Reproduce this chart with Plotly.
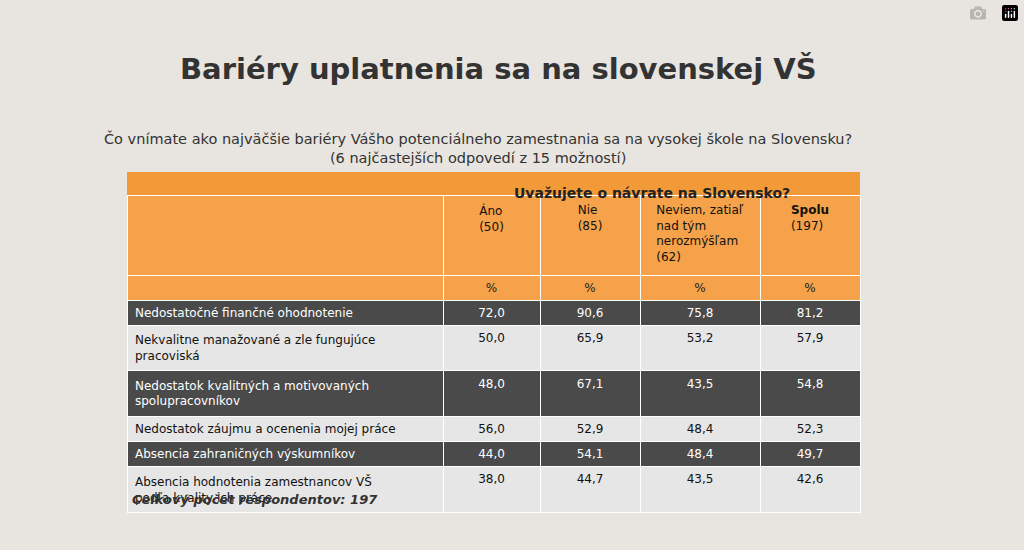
import plotly.graph_objects as go

# data
col_heads = ["", "Áno<br>(50)", "Nie<br>(85)", "Neviem, zatiaľ<br>nad tým<br>nerozmýšľam<br>(62)", "<b>Spolu</b><br>(197)"]
barriers = ["Nedostatočné finančné ohodnotenie",
            "Nekvalitne manažované a zle fungujúce<br>pracoviská",
            "Nedostatok kvalitných a motivovaných<br>spolupracovníkov",
            "Nedostatok záujmu a ocenenia mojej práce",
            "Absencia zahraničných výskumníkov",
            "Absencia hodnotenia zamestnancov VŠ<br>podľa kvality ich práce"]
ano = ["72,0", "50,0", "48,0", "56,0", "44,0", "38,0"]
nie = ["90,6", "65,9", "67,1", "52,9", "54,1", "44,7"]
neviem = ["75,8", "53,2", "43,5", "48,4", "48,4", "43,5"]
spolu = ["81,2", "57,9", "54,8", "52,3", "49,7", "42,6"]

orange = "#f6a24a"
dark = "#4a4a4a"
light = "#e6e6e6"

n = len(barriers)
row_fill = [orange] + [dark if i % 2 == 0 else light for i in range(n)]
row_font = ["#222"] + ["white" if i % 2 == 0 else "#111" for i in range(n)]

cols = [[""] + barriers, ["%"] + ano, ["%"] + nie, ["%"] + neviem, ["%"] + spolu]

x0, x1 = 127 / 1024, 860 / 1024

fig = go.Figure(go.Table(
    domain=dict(x=[x0, x1], y=[0.04, 1 - 195 / 550]),
    columnwidth=[316, 97, 100, 120, 100],
    header=dict(values=col_heads, fill_color=orange, line_color="white",
                align="center", height=80,
                font=dict(family="DejaVu Sans", size=12, color="#111")),
    cells=dict(values=cols, fill_color=[row_fill] * 5, line_color="white",
               align=["left", "center", "center", "center", "center"],
               height=25, font=dict(family="DejaVu Sans", size=12, color=[row_font] * 5)),
))

fig.add_shape(type="rect", xref="paper", yref="paper", x0=x0, x1=x1,
              y0=1 - 195 / 550, y1=1 - 172 / 550, fillcolor="#f39a38", line_width=0)
fig.add_annotation(text="<b>Uvažujete o návrate na Slovensko?</b>", xref="paper", yref="paper",
                   x=(443 / 1024 + x1) / 2, y=1 - 183 / 550, showarrow=False,
                   font=dict(family="DejaVu Sans", size=14, color="#222"))
fig.add_annotation(text="<b>Bariéry uplatnenia sa na slovenskej VŠ</b>", xref="paper", yref="paper",
                   x=0.487, y=1 - 50 / 550, showarrow=False,
                   font=dict(family="DejaVu Sans", size=29, color="#333"))
fig.add_annotation(text="Čo vnímate ako najväčšie bariéry Vášho potenciálneho zamestnania sa na vysokej škole na Slovensku?<br>(6 najčastejších odpovedí z 15 možností)",
                   xref="paper", yref="paper", x=0.467, y=1 - 128 / 550, showarrow=False,
                   font=dict(family="DejaVu Sans", size=14.5, color="#333"))
fig.add_annotation(text="<b><i>Celkový počet respondentov: 197</i></b>", xref="paper", yref="paper",
                   x=130 / 1024, y=1 - 509 / 550, xanchor="left", showarrow=False,
                   font=dict(family="DejaVu Sans", size=13, color="#333"))

fig.update_layout(width=1024, height=550, margin=dict(l=0, r=0, t=0, b=0),
                  paper_bgcolor="#e8e5e1")
fig.write_html("out.html", post_script="document.body.style.margin='0';")
